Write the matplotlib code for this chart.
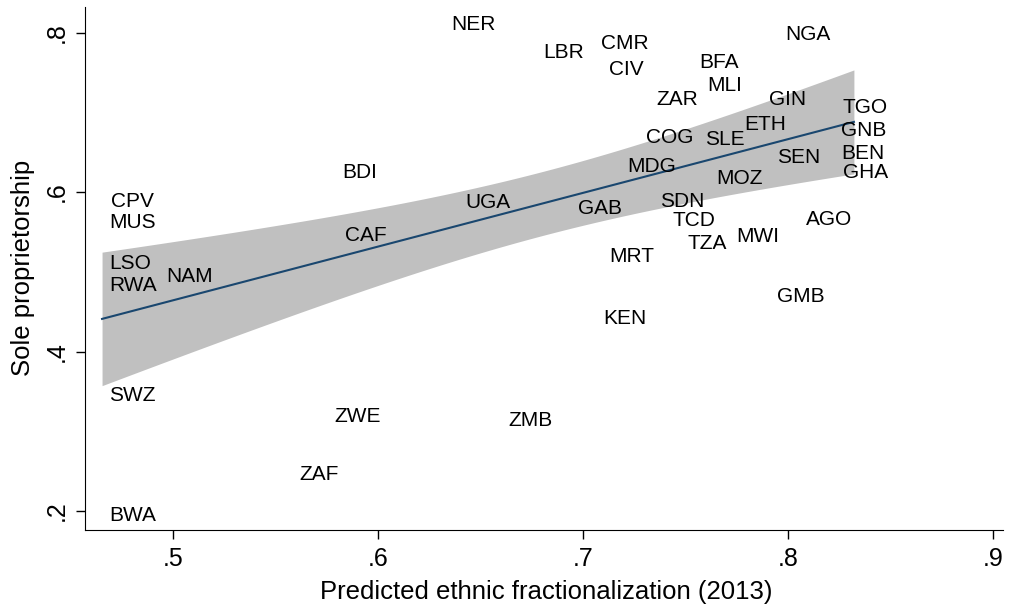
import numpy as np
import matplotlib
matplotlib.use("Agg")
import matplotlib.pyplot as plt

# Country labels with (predicted ethnic fractionalization, sole proprietorship share)
countries = ["NER", "LBR", "CMR", "CIV", "BFA", "MLI", "NGA", "ZAR", "GIN", "TGO",
             "GNB", "ETH", "COG", "SLE", "BEN", "SEN", "BDI", "MDG", "GHA", "MOZ",
             "CPV", "UGA", "GAB", "SDN", "MUS", "TCD", "AGO", "CAF", "TZA", "MWI",
             "MRT", "LSO", "RWA", "NAM", "GMB", "KEN", "SWZ", "ZWE", "ZMB", "ZAF",
             "BWA"]
frac = [0.632, 0.677, 0.705, 0.709, 0.753, 0.757, 0.795, 0.732, 0.787, 0.823,
        0.822, 0.775, 0.727, 0.756, 0.822, 0.791, 0.579, 0.718, 0.823, 0.761,
        0.466, 0.639, 0.694, 0.734, 0.465, 0.740, 0.805, 0.580, 0.747, 0.771,
        0.709, 0.465, 0.465, 0.493, 0.791, 0.706, 0.465, 0.575, 0.660, 0.558,
        0.465]
sole = [0.810, 0.775, 0.787, 0.754, 0.762, 0.734, 0.798, 0.716, 0.716, 0.706,
        0.677, 0.685, 0.669, 0.666, 0.649, 0.643, 0.624, 0.632, 0.625, 0.617,
        0.588, 0.587, 0.580, 0.588, 0.562, 0.564, 0.566, 0.546, 0.536, 0.544,
        0.519, 0.511, 0.483, 0.494, 0.469, 0.442, 0.345, 0.319, 0.314, 0.246,
        0.195]

# x range over which the fitted line is drawn
fit_range = [0.4655, 0.8323]

xticks = [0.5, 0.6, 0.7, 0.8, 0.9]
yticks = [0.2, 0.4, 0.6, 0.8]

plt.rcParams["font.family"] = ["Liberation Sans", "DejaVu Sans"]

x = np.array(frac)
y = np.array(sole)
n = len(x)

# linear fit with 95% CI of the mean prediction (like Stata's lfitci)
b, a = np.polyfit(x, y, 1)
resid = y - (a + b * x)
s = np.sqrt(np.sum(resid ** 2) / (n - 2))
xg = np.linspace(fit_range[0], fit_range[1], 200)
yg = a + b * xg
se = s * np.sqrt(1.0 / n + (xg - x.mean()) ** 2 / np.sum((x - x.mean()) ** 2))
t = 2.0227  # t(0.975, 39)

fig = plt.figure(figsize=(10.1, 6.06), dpi=100)
ax = fig.add_axes([0.0842, 0.1254, 0.9088, 0.8636])

ax.fill_between(xg, yg - t * se, yg + t * se, color="#c0c0c0", lw=0)
ax.plot(xg, yg, color="#1a476f", lw=1.5)

# labels placed to the right of the (invisible) markers
for c, xi, yi in zip(countries, x, y):
    ax.annotate(c, (xi, yi), xytext=(8, 0), textcoords="offset pixels",
                ha="left", va="center", fontsize=15)

ax.set_xlim(0.4572, 0.905)
ax.set_ylim(0.1762, 0.8326)
ax.set_xticks(xticks)
ax.set_xticklabels([("%.1f" % v).lstrip("0") for v in xticks], fontsize=18)
ax.set_yticks(yticks)
ax.set_yticklabels([("%.1f" % v).lstrip("0") for v in yticks], fontsize=18,
                   rotation=90, va="center")
ax.tick_params(direction="out", length=6.5, width=1)
ax.tick_params(axis="x", pad=6)
ax.tick_params(axis="y", pad=5)
for side in ["top", "right"]:
    ax.spines[side].set_visible(False)
ax.set_xlabel("Predicted ethnic fractionalization (2013)", fontsize=18.5, va="center")
ax.set_ylabel("Sole proprietorship", fontsize=18.5, va="center")
ax.xaxis.set_label_coords(0.503, -0.118)
ax.yaxis.set_label_coords(-0.0675, 0.5)

fig.savefig("out.png", dpi=100)
